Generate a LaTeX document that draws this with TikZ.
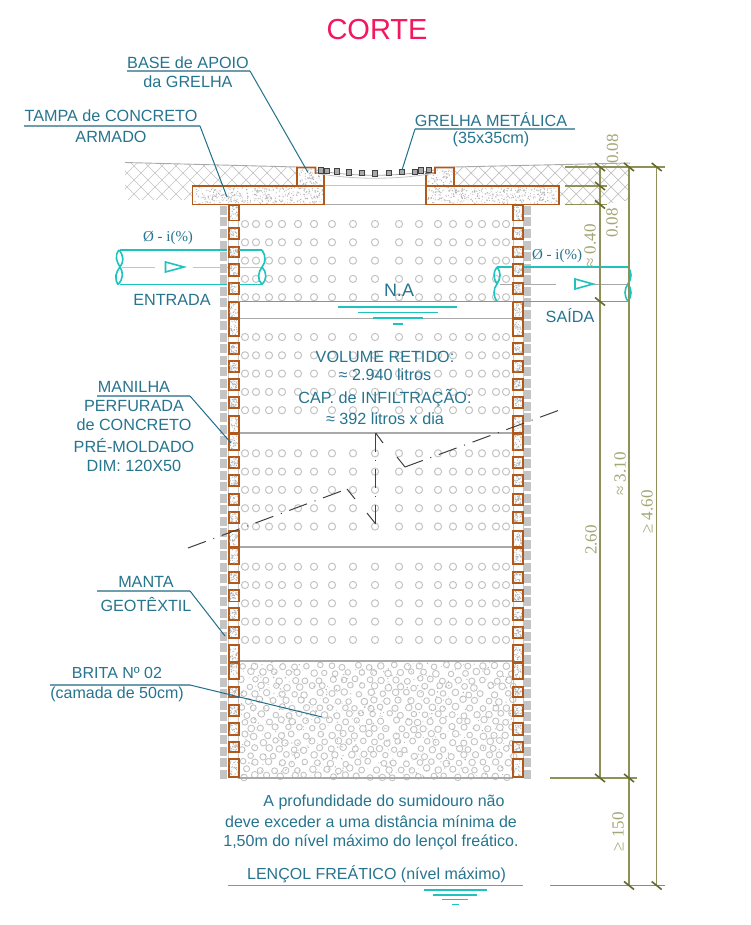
\documentclass[tikz,border=0pt]{standalone}
\usepackage{fontspec}
\setmainfont{Liberation Sans}
\newfontfamily\serifd{Liberation Serif}
\definecolor{tealtxt}{HTML}{27748F}
\definecolor{leader}{HTML}{1F6E8A}
\definecolor{ulinc}{HTML}{6F9DAE}
\definecolor{pipec}{HTML}{1FC3BE}
\definecolor{olive}{HTML}{8E9158}
\definecolor{olived}{HTML}{66692F}
\definecolor{olivet}{HTML}{A3A675}
\definecolor{brick}{HTML}{B0591B}
\definecolor{crim}{HTML}{F2175E}
\definecolor{lgray}{HTML}{C4C4C4}
\definecolor{mgray}{HTML}{A9A9A9}
\tikzset{
  x=1pt,y=-1pt,
  txt/.style={text=tealtxt,font=\fontsize{16.2}{18}\selectfont,inner sep=0pt,anchor=center},
  smalltxt/.style={txt,font=\fontsize{16}{18}\selectfont},
  dimt/.style={text=olivet,font=\serifd\fontsize{17}{18}\selectfont,inner sep=0pt,rotate=90},
  lead/.style={draw=leader,line width=1pt},
  ulin/.style={draw=ulinc,line width=1.1pt},
  dimline/.style={draw=olive,line width=1.2pt},
  pipe/.style={draw=pipec,line width=1.6pt},
  wat/.style={draw=pipec,line width=1.5pt},
  part/.style={draw=brick,line width=1.6pt,fill=white},
  sect/.style={draw=gray!50!black,line width=1pt},
  sectd/.style={sect,dash pattern=on 19pt off 8pt on 1pt off 8pt},
  dot/.style={draw=lgray,line width=1pt},
  hsep/.style={draw=mgray,line width=1.2pt},
  hatch/.style={draw=lgray,line width=0.7pt},
}
\newcommand{\dimtick}[2]{\draw[olived,line width=1.6pt] (#1-5,#2-4) -- (#1+5,#2+4);}
\newcommand{\stip}[5]{%
  \foreach \i in {1,...,#5}{%
    \pgfmathsetmacro{\sx}{#1+rnd*(#3)}\pgfmathsetmacro{\sy}{#2+rnd*(#4)}\pgfmathsetmacro{\sr}{0.25+rnd*0.55}%
    \fill[gray!60] (\sx,\sy) circle (\sr pt);}}
\begin{document}
\begin{tikzpicture}
\pgfmathsetseed{7}
\useasboundingbox (0,0) rectangle (750,925);
\fill[white] (0,0) rectangle (750,925);
% ground hatch
\begin{scope}
\clip (125,163) -- (297,167) -- (297,186) -- (192,186) -- (192,200) -- (125,200) -- cycle;
\foreach \k in {0,...,30}{
  \draw[hatch] (90+\k*14,150) -- (150+\k*14,210);
  \draw[hatch] (150+\k*14,150) -- (90+\k*14,210);}
\end{scope}
\begin{scope}
\clip (454,167) -- (630,163) -- (630,200) -- (600,205) -- (559,205) -- (559,186) -- (454,186) -- cycle;
\foreach \k in {0,...,20}{
  \draw[hatch] (420+\k*14,150) -- (480+\k*14,210);
  \draw[hatch] (480+\k*14,150) -- (420+\k*14,210);}
\end{scope}
\draw[mgray,line width=0.9pt] (125,162.5) -- (297,167);
\draw[mgray,line width=0.9pt] (454,167) -- (630,163);
% interior horizontal lines
\draw[lgray,line width=1pt] (324,186) -- (426,186);
\draw[mgray,line width=1pt] (324,204.5) -- (426,204.5);
% dots
\foreach \r in {224,242.3,260.6,278.9,297.2,337,355.3,373.6,391.9,410.2,453.3,471.6,489.9,508.2,526.5,566.7,585,603.3,621.6,639.9}{
  \foreach \c in {245,256,269,282,298,314,332,353,375,399,419,438,453,469,482,496,506}{
    \draw[dot] (\c,\r) circle (3.6pt);}}
% gravel
\foreach \j in {0,...,16}{
  \foreach \k in {0,...,21}{
    \pgfmathsetmacro{\gx}{243+\k*12.6+mod(\j,2)*6+rand*2.5}
    \pgfmathsetmacro{\gy}{666+\j*6.9+rand*1.6}
    \pgfmathsetmacro{\gr}{2.7+rnd*0.7}
    \draw[lgray,line width=0.9pt] (\gx,\gy) circle (\gr pt);}}
\stip{239}{662}{273}{115}{550}
% separators
\draw[hsep] (238,318.5) -- (513,318.5);
\draw[hsep] (238,433) -- (513,433);
\draw[hsep] (238,547) -- (513,547);
\draw[hsep] (238,661) -- (513,661);
\draw[hsep] (238,778) -- (513,778);
% walls
\foreach \n in {0,...,49}{
  \pgfmathsetmacro{\gy}{206+\n*11.5}
  \fill[lgray] (220,\gy) rectangle +(7,9);
  \fill[lgray] (524,\gy) rectangle +(7,9);}
\draw[lgray,line width=1pt] (228.7,205) -- (228.7,778) (238.7,205) -- (238.7,778);
\draw[lgray,line width=1pt] (513,205) -- (513,778) (523,205) -- (523,778);
\foreach \yy/\hh in {205.5/15,228/11,246.7/10.5,264/12,282.7/11.5,301.7/16.3,319/17,342.7/11.5,360.7/11.5,379/11,397/11,416/16.7,434/16,456.7/11.5,475/11,494/11,512/11,530.7/16,548/16,571.7/11.5,590/11.5,608/12,626.7/11.5,645/16.7,662.7/16.3,686.7/10,705/11,723/12,741.7/10,759/18}{
  \draw[part] (228.7,\yy) rectangle +(10,\hh);
  \stip{229.7}{\yy+1}{8}{\hh-2}{34}
  \draw[part] (513,\yy) rectangle +(10,\hh);
  \stip{514}{\yy+1}{8}{\hh-2}{34}
}
% slabs and base blocks
\draw[part] (192.5,186) rectangle (324,204.5);
\stip{194}{187.5}{129}{16}{420}
\draw[part] (426,186) rectangle (559,204.5);
\stip{427.5}{187.5}{130}{16}{420}
\draw[part] (297,186) -- (297,167.5) -- (315.5,167.5) -- (315.5,173) -- (324,173.5) -- (324,186) -- cycle;
\stip{298.5}{169}{15}{16}{45}
\stip{312}{175}{11}{10}{20}
\draw[part] (426,186) -- (426,173.5) -- (435,173) -- (435,167.5) -- (454,167.5) -- (454,186) -- cycle;
\stip{427.5}{175}{10}{10}{20}
\stip{436}{169}{17}{16}{45}
% grate
\draw[mgray,line width=0.8pt] (316,170) .. controls (350,177) and (400,177) .. (434,170);
\draw[lgray,line width=0.8pt] (316,173) .. controls (350,180) and (400,180) .. (434,173);
\foreach \gx/\gy in {321/170.7,327/171,337/171.7,349/172.7,362/173,375/173.7,389/173,402/172,415/172,421/170.7,429/170}{
  \draw[black!75,fill=mgray,line width=0.9pt] (\gx-2.8,\gy-2.8) rectangle +(5.6,5.6);}
% pipes
\draw[lgray,line width=1pt] (122,267) -- (155,267) (193,267) -- (228,267) (240,267) -- (262,267);
\draw[pipe,fill=white] (165.5,262) -- (184,267) -- (165.5,272) -- cycle;
\draw[pipe] (120,250) -- (227,250) (239,250) -- (262,250);
\draw[pipe] (120,284.5) -- (227,284.5) (239,284.5) -- (262,284.5);
\draw[pipe] (119,250) .. controls (114,256) and (117,262) .. (120,267) .. controls (123,272) and (124,278) .. (118,284.5);
\draw[pipe] (119,250) .. controls (124,256) and (124,262) .. (120,267) .. controls (116,272) and (114,278) .. (118,284.5);
\draw[pipe] (262,250) .. controls (266,256) and (266,262) .. (262,267) .. controls (258,272) and (257,280) .. (262,284.5);
\draw[pipe] (262,267) .. controls (267,272) and (267,280) .. (262,284.5);
\draw[mgray,line width=1pt] (500,284) -- (512,284) (524,284) -- (556,284) (594,284) -- (628,284);
\draw[pipe,fill=white] (575,279) -- (593,284) -- (575,289) -- cycle;
\draw[pipe] (497,267) -- (512,267) (524,267) -- (628,267);
\draw[pipe] (497,301.5) -- (512,301.5) (524,301.5) -- (628,301.5);
\draw[pipe] (497,267) .. controls (501,272) and (501,278) .. (497,284) .. controls (493,289) and (493,296) .. (497,301.5);
\draw[pipe] (497,267) .. controls (493,272) and (493,278) .. (497,284);
\draw[pipe] (628,267) .. controls (632,272) and (632,278) .. (628,284) .. controls (624,289) and (624,296) .. (628,301.5);
\draw[pipe] (628,284) .. controls (632,289) and (632,296) .. (628,301.5);
% water level
\draw[wat] (238,301.5) -- (513,301.5);
\draw[wat] (338,306.8) -- (457,306.8);
\draw[wat] (358,312.3) -- (438,312.3);
\draw[wat] (373,318) -- (423,318);
\draw[wat] (393,324) -- (403,324);
\node[txt,font=\fontsize{18}{20}\selectfont] (na) at (399,290) {N.A};
% section line
\draw[sectd] (188,548) -- (347,489);
\draw[sect] (347,489) -- (355,499);
\draw[sectd] (375.7,524) -- (375.7,433);
\draw[sect] (375.7,524) -- (367,513);
\draw[sect] (375.7,433) -- (383,443);
\draw[sect] (397,457) -- (405,467);
\draw[sectd] (405,467) -- (565,408);
% dimensions
\draw[dimline] (600,166) -- (600,778);
\draw[dimline] (629,167) -- (629,885.5);
\draw[dimline] (656.7,166) -- (656.7,885.5);
\draw[dimline] (565,167) -- (665,167);
\draw[dimline] (565,186) -- (607,186);
\draw[dimline] (565,204.5) -- (607,204.5);
\draw[dimline] (550,778) -- (637,778);
\draw[dimline] (550,885.5) -- (665,885.5);
\dimtick{600}{167}\dimtick{629}{167}\dimtick{656.7}{167}
\dimtick{600}{186}\dimtick{600}{204.5}\dimtick{600}{301.5}
\dimtick{600}{778}\dimtick{629}{778}
\dimtick{629}{885.5}\dimtick{656.7}{885.5}
\node[dimt] (d1) at (612.5,149) {0.08};
\node[dimt] (d2) at (612,223) {0.08};
\node[dimt] (d3) at (590,246) {≈ 0.40};
\node[dimt] (d4) at (620,474) {≈ 3.10};
\node[dimt] (d5) at (647,512) {≥ 4.60};
\node[dimt] (d6) at (591,540) {2.60};
\node[dimt] (d7) at (618,832) {≥ 150};
% title and labels
\node[inner sep=0pt,text=crim,font=\fontsize{29}{30}\selectfont] (title) at (377,30) {CORTE};
\node[txt] (l1) at (188,63) {BASE de APOIO};
\node[txt] (l1b) at (188,82) {da GRELHA};
\coordinate (l1s) at (127,71); \coordinate (l1k) at (250,71); \coordinate (l1e) at (308,172.5);
\draw[ulin] (l1s) -- (l1k); \draw[lead] (l1k) -- (l1e);
\node[txt] (l2) at (111,116) {TAMPA de CONCRETO};
\node[txt] (l2b) at (111,137) {ARMADO};
\coordinate (l2s) at (24,126); \coordinate (l2k) at (200,126); \coordinate (l2e) at (227,197);
\draw[ulin] (l2s) -- (l2k); \draw[lead] (l2k) -- (l2e);
\node[txt] (l3) at (491,120) {GRELHA METÁLICA};
\node[txt] (l3b) at (491,139) {(35x35cm)};
\coordinate (l3s) at (575,129); \coordinate (l3k) at (415,129); \coordinate (l3e) at (402,170);
\draw[ulin] (l3s) -- (l3k); \draw[lead] (l3k) -- (l3e);
\node[txt] (l4) at (134,387) {MANILHA};
\node[txt] (l4b) at (134,406) {PERFURADA};
\node[txt] (l4c) at (134,425) {de CONCRETO};
\node[txt] (l4d) at (134,446) {PRÉ-MOLDADO};
\node[txt] (l4e) at (134,466) {DIM: 120X50};
\coordinate (l4s) at (97,396); \coordinate (l4k) at (190,396); \coordinate (l4f) at (231,443);
\draw[ulin] (l4s) -- (l4k); \draw[lead] (l4k) -- (l4f);
\node[txt] (l5) at (146,582) {MANTA};
\node[txt] (l5b) at (146,604) {GEOTÊXTIL};
\coordinate (l5s) at (97,591); \coordinate (l5k) at (190,591); \coordinate (l5e) at (225,636);
\draw[ulin] (l5s) -- (l5k); \draw[lead] (l5k) -- (l5e);
\node[smalltxt] (l6) at (117,673) {BRITA Nº 02};
\node[smalltxt] (l6b) at (117,694) {(camada de 50cm)};
\coordinate (l6s) at (50,685); \coordinate (l6k) at (190,685); \coordinate (l6e) at (322,717);
\draw[ulin] (l6s) -- (l6k); \draw[lead] (l6k) -- (l6e);
\node[txt,font=\serifd\fontsize{15}{16}\selectfont] (p1) at (168,238) {Ø - i(\%)};
\node[txt,font=\serifd\fontsize{15}{16}\selectfont] (p2) at (557,256) {Ø - i(\%)};
\node[txt] (ent) at (172,300) {ENTRADA};
\node[txt] (sai) at (570,316) {SAÍDA};
\node[txt] (v1) at (385,357) {VOLUME RETIDO:};
\node[txt] (v2) at (385,375) {≈ 2.940 litros};
\node[txt] (v3) at (385,398) {CAP. de INFILTRAÇÃO:};
\node[txt] (v4) at (385,419) {≈ 392 litros x dia};
\node[smalltxt] (n1) at (384,802.5) {A profundidade do sumidouro não};
\node[smalltxt] (n2) at (371,822) {deve exceder a uma distância mínima de};
\node[smalltxt] (n3) at (371,842) {1,50m do nível máximo do lençol freático.};
\node[smalltxt] (lf) at (376.5,874) {LENÇOL FREÁTICO (nível máximo)};
\draw[wat] (228,885.7) -- (523,885.7);
\draw[wat] (424,890) -- (487,890);
\draw[wat] (433,895) -- (477,895);
\draw[wat] (442,899.7) -- (468,899.7);
\draw[wat] (452,904.5) -- (459,904.5);
\end{tikzpicture}
\end{document}
